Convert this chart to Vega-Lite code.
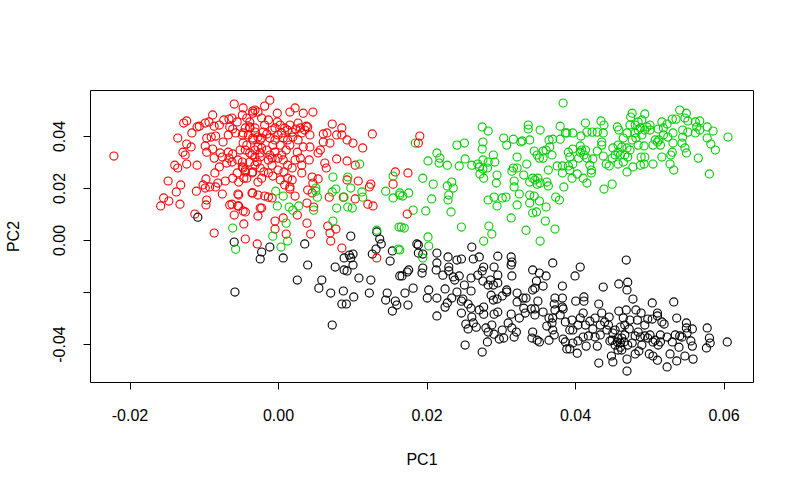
{"$schema":"https://vega.github.io/schema/vega-lite/v6.json","width":663,"height":292,"autosize":"none","padding":{"left":90,"top":90,"right":46,"bottom":112},"background":"white","config":{"view":{"stroke":"black","strokeWidth":1},"font":"Liberation Sans"},
"data":{"values":[
{"PC1":-0.0108,"PC2":0.0088,"g":"k"},{"PC1":-0.0059,"PC2":-0.0008,"g":"k"},{"PC1":-0.0022,"PC2":-0.0046,"g":"k"},{"PC1":-0.0011,"PC2":-0.0027,"g":"k"},{"PC1":-0.0024,"PC2":-0.0073,"g":"k"},{"PC1":0.0007,"PC2":-0.0069,"g":"k"},{"PC1":0.0036,"PC2":-0.0015,"g":"k"},{"PC1":0.0040,"PC2":-0.0096,"g":"k"},{"PC1":0.0026,"PC2":-0.0154,"g":"k"},{"PC1":0.0059,"PC2":-0.0154,"g":"k"},{"PC1":0.0055,"PC2":-0.0185,"g":"k"},{"PC1":-0.0058,"PC2":-0.0200,"g":"k"},{"PC1":0.0071,"PC2":-0.0204,"g":"k"},{"PC1":0.0088,"PC2":-0.0196,"g":"k"},{"PC1":0.0102,"PC2":-0.0219,"g":"k"},{"PC1":0.0123,"PC2":-0.0204,"g":"k"},{"PC1":0.0086,"PC2":-0.0246,"g":"k"},{"PC1":0.0092,"PC2":-0.0246,"g":"k"},{"PC1":0.0073,"PC2":-0.0327,"g":"k"},{"PC1":0.0098,"PC2":0.0015,"g":"k"},{"PC1":0.0133,"PC2":0.0031,"g":"k"},{"PC1":0.0137,"PC2":0.0004,"g":"k"},{"PC1":0.0139,"PC2":-0.0015,"g":"k"},{"PC1":0.0132,"PC2":-0.0035,"g":"k"},{"PC1":0.0127,"PC2":-0.0054,"g":"k"},{"PC1":0.0154,"PC2":-0.0042,"g":"k"},{"PC1":0.0151,"PC2":-0.0081,"g":"k"},{"PC1":0.0077,"PC2":-0.0104,"g":"k"},{"PC1":0.0089,"PC2":-0.0069,"g":"k"},{"PC1":0.0096,"PC2":-0.0058,"g":"k"},{"PC1":0.0101,"PC2":-0.0054,"g":"k"},{"PC1":0.0098,"PC2":-0.0069,"g":"k"},{"PC1":0.0101,"PC2":-0.0096,"g":"k"},{"PC1":0.0089,"PC2":-0.0115,"g":"k"},{"PC1":0.0093,"PC2":-0.0119,"g":"k"},{"PC1":0.0109,"PC2":-0.0146,"g":"k"},{"PC1":0.0125,"PC2":-0.0154,"g":"k"},{"PC1":0.0147,"PC2":-0.0204,"g":"k"},{"PC1":0.0145,"PC2":-0.0231,"g":"k"},{"PC1":0.0158,"PC2":-0.0235,"g":"k"},{"PC1":0.0160,"PC2":-0.0250,"g":"k"},{"PC1":0.0154,"PC2":-0.0273,"g":"k"},{"PC1":0.0164,"PC2":-0.0138,"g":"k"},
{"PC1":0.0187,"PC2":-0.0015,"g":"k"},{"PC1":0.0189,"PC2":-0.0019,"g":"k"},{"PC1":0.0189,"PC2":-0.0050,"g":"k"},{"PC1":0.0195,"PC2":-0.0054,"g":"k"},{"PC1":0.0214,"PC2":-0.0050,"g":"k"},{"PC1":0.0214,"PC2":-0.0088,"g":"k"},{"PC1":0.0213,"PC2":-0.0115,"g":"k"},{"PC1":0.0229,"PC2":-0.0065,"g":"k"},{"PC1":0.0241,"PC2":-0.0077,"g":"k"},{"PC1":0.0247,"PC2":-0.0073,"g":"k"},{"PC1":0.0261,"PC2":-0.0027,"g":"k"},{"PC1":0.0263,"PC2":-0.0073,"g":"k"},{"PC1":0.0271,"PC2":-0.0065,"g":"k"},{"PC1":0.0296,"PC2":-0.0062,"g":"k"},{"PC1":0.0314,"PC2":-0.0065,"g":"k"},{"PC1":0.0315,"PC2":-0.0085,"g":"k"},{"PC1":0.0314,"PC2":-0.0096,"g":"k"},{"PC1":0.0370,"PC2":-0.0088,"g":"k"},{"PC1":0.0343,"PC2":-0.0115,"g":"k"},{"PC1":0.0352,"PC2":-0.0127,"g":"k"},{"PC1":0.0361,"PC2":-0.0138,"g":"k"},{"PC1":0.0348,"PC2":-0.0158,"g":"k"},{"PC1":0.0357,"PC2":-0.0177,"g":"k"},{"PC1":0.0346,"PC2":-0.0185,"g":"k"},{"PC1":0.0343,"PC2":-0.0192,"g":"k"},{"PC1":0.0383,"PC2":-0.0177,"g":"k"},{"PC1":0.0315,"PC2":-0.0138,"g":"k"},{"PC1":0.0296,"PC2":-0.0135,"g":"k"},{"PC1":0.0291,"PC2":-0.0104,"g":"k"},{"PC1":0.0277,"PC2":-0.0104,"g":"k"},{"PC1":0.0275,"PC2":-0.0119,"g":"k"},{"PC1":0.0269,"PC2":-0.0135,"g":"k"},{"PC1":0.0260,"PC2":-0.0146,"g":"k"},{"PC1":0.0230,"PC2":-0.0104,"g":"k"},{"PC1":0.0230,"PC2":-0.0119,"g":"k"},{"PC1":0.0222,"PC2":-0.0135,"g":"k"},{"PC1":0.0236,"PC2":-0.0142,"g":"k"},{"PC1":0.0238,"PC2":-0.0154,"g":"k"},{"PC1":0.0244,"PC2":-0.0138,"g":"k"},{"PC1":0.0195,"PC2":-0.0108,"g":"k"},{"PC1":0.0194,"PC2":-0.0127,"g":"k"},{"PC1":0.0176,"PC2":-0.0115,"g":"k"},{"PC1":0.0174,"PC2":-0.0123,"g":"k"},{"PC1":0.0167,"PC2":-0.0138,"g":"k"},{"PC1":0.0182,"PC2":-0.0185,"g":"k"},{"PC1":0.0171,"PC2":-0.0204,"g":"k"},{"PC1":0.0203,"PC2":-0.0192,"g":"k"},{"PC1":0.0201,"PC2":-0.0223,"g":"k"},{"PC1":0.0214,"PC2":-0.0223,"g":"k"},{"PC1":0.0225,"PC2":-0.0188,"g":"k"},{"PC1":0.0234,"PC2":-0.0223,"g":"k"},{"PC1":0.0241,"PC2":-0.0200,"g":"k"},{"PC1":0.0251,"PC2":-0.0173,"g":"k"},{"PC1":0.0260,"PC2":-0.0196,"g":"k"},{"PC1":0.0249,"PC2":-0.0227,"g":"k"},{"PC1":0.0247,"PC2":-0.0235,"g":"k"},{"PC1":0.0276,"PC2":-0.0158,"g":"k"},{"PC1":0.0283,"PC2":-0.0173,"g":"k"},{"PC1":0.0290,"PC2":-0.0173,"g":"k"},{"PC1":0.0286,"PC2":-0.0154,"g":"k"},{"PC1":0.0296,"PC2":-0.0165,"g":"k"},{"PC1":0.0308,"PC2":-0.0192,"g":"k"},{"PC1":0.0308,"PC2":-0.0200,"g":"k"},{"PC1":0.0287,"PC2":-0.0212,"g":"k"},{"PC1":0.0302,"PC2":-0.0215,"g":"k"},{"PC1":0.0295,"PC2":-0.0227,"g":"k"},{"PC1":0.0290,"PC2":-0.0231,"g":"k"},{"PC1":0.0322,"PC2":-0.0204,"g":"k"},{"PC1":0.0322,"PC2":-0.0238,"g":"k"},{"PC1":0.0334,"PC2":-0.0223,"g":"k"},{"PC1":0.0330,"PC2":-0.0223,"g":"k"},{"PC1":0.0350,"PC2":-0.0235,"g":"k"},{"PC1":0.0373,"PC2":-0.0223,"g":"k"},{"PC1":0.0383,"PC2":-0.0223,"g":"k"},{"PC1":0.0175,"PC2":-0.0250,"g":"k"},{"PC1":0.0228,"PC2":-0.0242,"g":"k"},{"PC1":0.0225,"PC2":-0.0258,"g":"k"},{"PC1":0.0214,"PC2":-0.0292,"g":"k"},{"PC1":0.0256,"PC2":-0.0246,"g":"k"},{"PC1":0.0260,"PC2":-0.0262,"g":"k"},{"PC1":0.0247,"PC2":-0.0281,"g":"k"},{"PC1":0.0271,"PC2":-0.0269,"g":"k"},{"PC1":0.0277,"PC2":-0.0258,"g":"k"},{"PC1":0.0277,"PC2":-0.0285,"g":"k"},{"PC1":0.0291,"PC2":-0.0285,"g":"k"},{"PC1":0.0296,"PC2":-0.0277,"g":"k"},{"PC1":0.0314,"PC2":-0.0285,"g":"k"},{"PC1":0.0325,"PC2":-0.0300,"g":"k"},{"PC1":0.0333,"PC2":-0.0281,"g":"k"},{"PC1":0.0331,"PC2":-0.0262,"g":"k"},{"PC1":0.0341,"PC2":-0.0265,"g":"k"},{"PC1":0.0346,"PC2":-0.0265,"g":"k"},{"PC1":0.0346,"PC2":-0.0288,"g":"k"},{"PC1":0.0357,"PC2":-0.0277,"g":"k"},{"PC1":0.0372,"PC2":-0.0246,"g":"k"},{"PC1":0.0373,"PC2":-0.0269,"g":"k"},{"PC1":0.0383,"PC2":-0.0258,"g":"k"},{"PC1":0.0384,"PC2":-0.0265,"g":"k"},{"PC1":0.0380,"PC2":-0.0288,"g":"k"},{"PC1":0.0365,"PC2":-0.0300,"g":"k"},{"PC1":0.0370,"PC2":-0.0300,"g":"k"},{"PC1":0.0261,"PC2":-0.0296,"g":"k"},{"PC1":0.0253,"PC2":-0.0323,"g":"k"},{"PC1":0.0263,"PC2":-0.0319,"g":"k"},{"PC1":0.0256,"PC2":-0.0342,"g":"k"},{"PC1":0.0267,"PC2":-0.0335,"g":"k"},{"PC1":0.0288,"PC2":-0.0327,"g":"k"},{"PC1":0.0280,"PC2":-0.0338,"g":"k"},{"PC1":0.0283,"PC2":-0.0354,"g":"k"},{"PC1":0.0291,"PC2":-0.0362,"g":"k"},{"PC1":0.0302,"PC2":-0.0346,"g":"k"},{"PC1":0.0310,"PC2":-0.0319,"g":"k"},{"PC1":0.0315,"PC2":-0.0338,"g":"k"},{"PC1":0.0321,"PC2":-0.0354,"g":"k"},{"PC1":0.0318,"PC2":-0.0373,"g":"k"},{"PC1":0.0304,"PC2":-0.0377,"g":"k"},{"PC1":0.0298,"PC2":-0.0381,"g":"k"},{"PC1":0.0282,"PC2":-0.0392,"g":"k"},{"PC1":0.0252,"PC2":-0.0404,"g":"k"},{"PC1":0.0275,"PC2":-0.0431,"g":"k"},{"PC1":0.0343,"PC2":-0.0354,"g":"k"},{"PC1":0.0342,"PC2":-0.0377,"g":"k"},{"PC1":0.0349,"PC2":-0.0385,"g":"k"},{"PC1":0.0352,"PC2":-0.0392,"g":"k"},{"PC1":0.0365,"PC2":-0.0385,"g":"k"},{"PC1":0.0362,"PC2":-0.0331,"g":"k"},{"PC1":0.0369,"PC2":-0.0319,"g":"k"},{"PC1":0.0370,"PC2":-0.0346,"g":"k"},{"PC1":0.0372,"PC2":-0.0365,"g":"k"},{"PC1":0.0387,"PC2":-0.0315,"g":"k"},{"PC1":0.0384,"PC2":-0.0381,"g":"k"},{"PC1":0.0387,"PC2":-0.0392,"g":"k"},{"PC1":0.0389,"PC2":-0.0419,"g":"k"},{"PC1":0.0393,"PC2":-0.0346,"g":"k"},
{"PC1":0.0469,"PC2":-0.0077,"g":"k"},{"PC1":0.0407,"PC2":-0.0104,"g":"k"},{"PC1":0.0400,"PC2":-0.0138,"g":"k"},{"PC1":0.0438,"PC2":-0.0181,"g":"k"},{"PC1":0.0459,"PC2":-0.0169,"g":"k"},{"PC1":0.0471,"PC2":-0.0162,"g":"k"},{"PC1":0.0470,"PC2":-0.0192,"g":"k"},{"PC1":0.0478,"PC2":-0.0227,"g":"k"},{"PC1":0.0504,"PC2":-0.0242,"g":"k"},{"PC1":0.0533,"PC2":-0.0238,"g":"k"},{"PC1":0.0412,"PC2":-0.0219,"g":"k"},{"PC1":0.0412,"PC2":-0.0235,"g":"k"},{"PC1":0.0401,"PC2":-0.0235,"g":"k"},{"PC1":0.0432,"PC2":-0.0246,"g":"k"},{"PC1":0.0436,"PC2":-0.0281,"g":"k"},{"PC1":0.0411,"PC2":-0.0281,"g":"k"},{"PC1":0.0459,"PC2":-0.0273,"g":"k"},{"PC1":0.0469,"PC2":-0.0269,"g":"k"},{"PC1":0.0482,"PC2":-0.0269,"g":"k"},{"PC1":0.0489,"PC2":-0.0281,"g":"k"},{"PC1":0.0511,"PC2":-0.0281,"g":"k"},{"PC1":0.0511,"PC2":-0.0292,"g":"k"},{"PC1":0.0537,"PC2":-0.0300,"g":"k"},{"PC1":0.0550,"PC2":-0.0319,"g":"k"},{"PC1":0.0558,"PC2":-0.0342,"g":"k"},{"PC1":0.0550,"PC2":-0.0338,"g":"k"},{"PC1":0.0551,"PC2":-0.0358,"g":"k"},{"PC1":0.0578,"PC2":-0.0338,"g":"k"},{"PC1":0.0581,"PC2":-0.0377,"g":"k"},{"PC1":0.0582,"PC2":-0.0396,"g":"k"},{"PC1":0.0577,"PC2":-0.0415,"g":"k"},{"PC1":0.0605,"PC2":-0.0392,"g":"k"},{"PC1":0.0558,"PC2":-0.0408,"g":"k"},{"PC1":0.0556,"PC2":-0.0388,"g":"k"},{"PC1":0.0541,"PC2":-0.0369,"g":"k"},{"PC1":0.0540,"PC2":-0.0412,"g":"k"},{"PC1":0.0528,"PC2":-0.0438,"g":"k"},{"PC1":0.0548,"PC2":-0.0446,"g":"k"},{"PC1":0.0559,"PC2":-0.0458,"g":"k"},{"PC1":0.0537,"PC2":-0.0465,"g":"k"},{"PC1":0.0524,"PC2":-0.0488,"g":"k"},{"PC1":0.0511,"PC2":-0.0462,"g":"k"},{"PC1":0.0505,"PC2":-0.0446,"g":"k"},{"PC1":0.0500,"PC2":-0.0438,"g":"k"},{"PC1":0.0486,"PC2":-0.0427,"g":"k"},{"PC1":0.0481,"PC2":-0.0438,"g":"k"},{"PC1":0.0470,"PC2":-0.0458,"g":"k"},{"PC1":0.0470,"PC2":-0.0504,"g":"k"},{"PC1":0.0451,"PC2":-0.0469,"g":"k"},{"PC1":0.0449,"PC2":-0.0446,"g":"k"},{"PC1":0.0432,"PC2":-0.0473,"g":"k"},{"PC1":0.0403,"PC2":-0.0435,"g":"k"},{"PC1":0.0430,"PC2":-0.0408,"g":"k"},{"PC1":0.0415,"PC2":-0.0408,"g":"k"},{"PC1":0.0397,"PC2":-0.0396,"g":"k"},{"PC1":0.0393,"PC2":-0.0419,"g":"k"},{"PC1":0.0424,"PC2":-0.0342,"g":"k"},{"PC1":0.0434,"PC2":-0.0327,"g":"k"},{"PC1":0.0420,"PC2":-0.0312,"g":"k"},{"PC1":0.0407,"PC2":-0.0300,"g":"k"},{"PC1":0.0396,"PC2":-0.0308,"g":"k"},{"PC1":0.0446,"PC2":-0.0296,"g":"k"},{"PC1":0.0445,"PC2":-0.0327,"g":"k"},{"PC1":0.0443,"PC2":-0.0346,"g":"k"},{"PC1":0.0451,"PC2":-0.0358,"g":"k"},{"PC1":0.0447,"PC2":-0.0388,"g":"k"},{"PC1":0.0457,"PC2":-0.0392,"g":"k"},{"PC1":0.0463,"PC2":-0.0377,"g":"k"},{"PC1":0.0461,"PC2":-0.0412,"g":"k"},{"PC1":0.0458,"PC2":-0.0423,"g":"k"},{"PC1":0.0471,"PC2":-0.0404,"g":"k"},{"PC1":0.0477,"PC2":-0.0396,"g":"k"},{"PC1":0.0485,"PC2":-0.0354,"g":"k"},{"PC1":0.0484,"PC2":-0.0308,"g":"k"},{"PC1":0.0474,"PC2":-0.0308,"g":"k"},{"PC1":0.0465,"PC2":-0.0300,"g":"k"},{"PC1":0.0498,"PC2":-0.0304,"g":"k"},{"PC1":0.0504,"PC2":-0.0304,"g":"k"},{"PC1":0.0494,"PC2":-0.0369,"g":"k"},{"PC1":0.0498,"PC2":-0.0377,"g":"k"},{"PC1":0.0490,"PC2":-0.0404,"g":"k"},{"PC1":0.0505,"PC2":-0.0392,"g":"k"},{"PC1":0.0512,"PC2":-0.0404,"g":"k"},{"PC1":0.0515,"PC2":-0.0365,"g":"k"},{"PC1":0.0520,"PC2":-0.0323,"g":"k"},{"PC1":0.0517,"PC2":-0.0315,"g":"k"},{"PC1":0.0524,"PC2":-0.0373,"g":"k"},{"PC1":0.0535,"PC2":-0.0365,"g":"k"},{"PC1":0.0544,"PC2":-0.0373,"g":"k"},{"PC1":0.0531,"PC2":-0.0392,"g":"k"},{"PC1":0.0397,"PC2":-0.0346,"g":"k"},{"PC1":0.0411,"PC2":-0.0373,"g":"k"},{"PC1":0.0404,"PC2":-0.0388,"g":"k"},{"PC1":0.0418,"PC2":-0.0369,"g":"k"},{"PC1":0.0427,"PC2":-0.0373,"g":"k"},{"PC1":0.0461,"PC2":-0.0335,"g":"k"},{"PC1":0.0473,"PC2":-0.0342,"g":"k"},{"PC1":0.0467,"PC2":-0.0365,"g":"k"},{"PC1":0.0481,"PC2":-0.0369,"g":"k"},{"PC1":0.0488,"PC2":-0.0373,"g":"k"},{"PC1":0.0450,"PC2":-0.0385,"g":"k"},{"PC1":0.0454,"PC2":-0.0404,"g":"k"},{"PC1":0.0461,"PC2":-0.0396,"g":"k"},{"PC1":0.0466,"PC2":-0.0392,"g":"k"},{"PC1":0.0458,"PC2":-0.0377,"g":"k"},{"PC1":0.0463,"PC2":-0.0423,"g":"k"},{"PC1":0.0508,"PC2":-0.0385,"g":"k"},{"PC1":0.0515,"PC2":-0.0392,"g":"k"},{"PC1":0.0501,"PC2":-0.0365,"g":"k"},{"PC1":0.0494,"PC2":-0.0327,"g":"k"},{"PC1":0.0467,"PC2":-0.0327,"g":"k"},{"PC1":0.0454,"PC2":-0.0346,"g":"k"},{"PC1":0.0434,"PC2":-0.0365,"g":"k"},{"PC1":0.0440,"PC2":-0.0315,"g":"k"},{"PC1":0.0427,"PC2":-0.0300,"g":"k"},{"PC1":0.0414,"PC2":-0.0327,"g":"k"},{"PC1":0.0404,"PC2":-0.0327,"g":"k"},
{"PC1":-0.0221,"PC2":0.0323,"g":"r"},{"PC1":-0.0059,"PC2":0.0523,"g":"r"},{"PC1":-0.0047,"PC2":0.0508,"g":"r"},{"PC1":-0.0088,"PC2":0.0481,"g":"r"},{"PC1":-0.0123,"PC2":0.0458,"g":"r"},{"PC1":-0.0127,"PC2":0.0450,"g":"r"},{"PC1":-0.0135,"PC2":0.0392,"g":"r"},{"PC1":-0.0116,"PC2":0.0412,"g":"r"},{"PC1":-0.0109,"PC2":0.0435,"g":"r"},{"PC1":-0.0106,"PC2":0.0438,"g":"r"},{"PC1":-0.0098,"PC2":0.0450,"g":"r"},{"PC1":-0.0093,"PC2":0.0454,"g":"r"},{"PC1":-0.0086,"PC2":0.0438,"g":"r"},{"PC1":-0.0079,"PC2":0.0442,"g":"r"},{"PC1":-0.0073,"PC2":0.0462,"g":"r"},{"PC1":-0.0066,"PC2":0.0465,"g":"r"},{"PC1":-0.0062,"PC2":0.0469,"g":"r"},{"PC1":-0.0055,"PC2":0.0454,"g":"r"},{"PC1":-0.0048,"PC2":0.0481,"g":"r"},{"PC1":-0.0065,"PC2":0.0435,"g":"r"},{"PC1":-0.0061,"PC2":0.0427,"g":"r"},{"PC1":-0.0047,"PC2":0.0412,"g":"r"},{"PC1":-0.0057,"PC2":0.0412,"g":"r"},{"PC1":-0.0067,"PC2":0.0404,"g":"r"},{"PC1":-0.0096,"PC2":0.0392,"g":"r"},{"PC1":-0.0090,"PC2":0.0396,"g":"r"},{"PC1":-0.0084,"PC2":0.0400,"g":"r"},{"PC1":-0.0074,"PC2":0.0377,"g":"r"},{"PC1":-0.0098,"PC2":0.0362,"g":"r"},{"PC1":-0.0123,"PC2":0.0369,"g":"r"},{"PC1":-0.0117,"PC2":0.0358,"g":"r"},{"PC1":-0.0128,"PC2":0.0338,"g":"r"},{"PC1":-0.0125,"PC2":0.0327,"g":"r"},{"PC1":-0.0096,"PC2":0.0338,"g":"r"},{"PC1":-0.0088,"PC2":0.0350,"g":"r"},{"PC1":-0.0078,"PC2":0.0335,"g":"r"},{"PC1":-0.0067,"PC2":0.0338,"g":"r"},{"PC1":-0.0061,"PC2":0.0331,"g":"r"},{"PC1":-0.0086,"PC2":0.0315,"g":"r"},{"PC1":-0.0075,"PC2":0.0319,"g":"r"},{"PC1":-0.0066,"PC2":0.0315,"g":"r"},{"PC1":-0.0069,"PC2":0.0296,"g":"r"},{"PC1":-0.0079,"PC2":0.0281,"g":"r"},{"PC1":-0.0048,"PC2":0.0300,"g":"r"},{"PC1":-0.0047,"PC2":0.0277,"g":"r"},{"PC1":-0.0109,"PC2":0.0288,"g":"r"},{"PC1":-0.0123,"PC2":0.0292,"g":"r"},{"PC1":-0.0139,"PC2":0.0288,"g":"r"},{"PC1":-0.0135,"PC2":0.0277,"g":"r"},{"PC1":-0.0085,"PC2":0.0258,"g":"r"},{"PC1":-0.0148,"PC2":0.0227,"g":"r"},{"PC1":-0.0131,"PC2":0.0212,"g":"r"},{"PC1":-0.0097,"PC2":0.0235,"g":"r"},{"PC1":-0.0081,"PC2":0.0219,"g":"r"},{"PC1":-0.0071,"PC2":0.0227,"g":"r"},{"PC1":-0.0061,"PC2":0.0238,"g":"r"},{"PC1":-0.0053,"PC2":0.0223,"g":"r"},{"PC1":-0.0046,"PC2":0.0238,"g":"r"},{"PC1":-0.0101,"PC2":0.0212,"g":"r"},{"PC1":-0.0098,"PC2":0.0200,"g":"r"},{"PC1":-0.0092,"PC2":0.0204,"g":"r"},{"PC1":-0.0084,"PC2":0.0204,"g":"r"},{"PC1":-0.0110,"PC2":0.0188,"g":"r"},{"PC1":-0.0137,"PC2":0.0185,"g":"r"},{"PC1":-0.0075,"PC2":0.0177,"g":"r"},{"PC1":-0.0053,"PC2":0.0173,"g":"r"},{"PC1":-0.0096,"PC2":0.0154,"g":"r"},{"PC1":-0.0097,"PC2":0.0135,"g":"r"},{"PC1":-0.0132,"PC2":0.0138,"g":"r"},{"PC1":-0.0147,"PC2":0.0150,"g":"r"},{"PC1":-0.0154,"PC2":0.0162,"g":"r"},{"PC1":-0.0158,"PC2":0.0131,"g":"r"},{"PC1":-0.0062,"PC2":0.0138,"g":"r"},{"PC1":-0.0053,"PC2":0.0131,"g":"r"},{"PC1":-0.0047,"PC2":0.0112,"g":"r"},{"PC1":-0.0044,"PC2":0.0108,"g":"r"},{"PC1":-0.0059,"PC2":0.0096,"g":"r"},{"PC1":-0.0112,"PC2":0.0100,"g":"r"},{"PC1":-0.0046,"PC2":0.0062,"g":"r"},{"PC1":-0.0086,"PC2":0.0027,"g":"r"},{"PC1":-0.0044,"PC2":0.0004,"g":"r"},{"PC1":-0.0028,"PC2":-0.0015,"g":"r"},{"PC1":-0.0027,"PC2":0.0092,"g":"r"},{"PC1":-0.0034,"PC2":0.0181,"g":"r"},{"PC1":-0.0027,"PC2":0.0173,"g":"r"},{"PC1":-0.0024,"PC2":0.0123,"g":"r"},{"PC1":-0.0042,"PC2":0.0469,"g":"r"},{"PC1":-0.0038,"PC2":0.0454,"g":"r"},{"PC1":-0.0031,"PC2":0.0500,"g":"r"},{"PC1":-0.0027,"PC2":0.0492,"g":"r"},{"PC1":-0.0034,"PC2":0.0488,"g":"r"},{"PC1":-0.0038,"PC2":0.0435,"g":"r"},{"PC1":-0.0031,"PC2":0.0415,"g":"r"},{"PC1":-0.0027,"PC2":0.0396,"g":"r"},{"PC1":-0.0048,"PC2":0.0404,"g":"r"},{"PC1":-0.0034,"PC2":0.0385,"g":"r"},{"PC1":-0.0042,"PC2":0.0365,"g":"r"},{"PC1":-0.0027,"PC2":0.0358,"g":"r"},{"PC1":-0.0047,"PC2":0.0373,"g":"r"},{"PC1":-0.0038,"PC2":0.0335,"g":"r"},{"PC1":-0.0031,"PC2":0.0319,"g":"r"},{"PC1":-0.0024,"PC2":0.0335,"g":"r"},{"PC1":-0.0048,"PC2":0.0281,"g":"r"},{"PC1":-0.0044,"PC2":0.0262,"g":"r"},{"PC1":-0.0035,"PC2":0.0258,"g":"r"},{"PC1":-0.0028,"PC2":0.0300,"g":"r"},{"PC1":-0.0055,"PC2":0.0258,"g":"r"},{"PC1":-0.0027,"PC2":0.0223,"g":"r"},
{"PC1":-0.0011,"PC2":0.0538,"g":"r"},{"PC1":-0.0018,"PC2":0.0515,"g":"r"},{"PC1":0.0023,"PC2":0.0508,"g":"r"},{"PC1":0.0047,"PC2":0.0492,"g":"r"},{"PC1":0.0034,"PC2":0.0488,"g":"r"},{"PC1":0.0016,"PC2":0.0492,"g":"r"},{"PC1":-0.0001,"PC2":0.0488,"g":"r"},{"PC1":-0.0034,"PC2":0.0496,"g":"r"},{"PC1":0.0073,"PC2":0.0446,"g":"r"},{"PC1":0.0086,"PC2":0.0431,"g":"r"},{"PC1":0.0127,"PC2":0.0408,"g":"r"},{"PC1":0.0061,"PC2":0.0408,"g":"r"},{"PC1":0.0066,"PC2":0.0412,"g":"r"},{"PC1":0.0079,"PC2":0.0404,"g":"r"},{"PC1":0.0086,"PC2":0.0404,"g":"r"},{"PC1":0.0093,"PC2":0.0385,"g":"r"},{"PC1":0.0101,"PC2":0.0373,"g":"r"},{"PC1":0.0070,"PC2":0.0373,"g":"r"},{"PC1":0.0114,"PC2":0.0354,"g":"r"},{"PC1":0.0061,"PC2":0.0377,"g":"r"},{"PC1":0.0038,"PC2":0.0438,"g":"r"},{"PC1":0.0040,"PC2":0.0435,"g":"r"},{"PC1":0.0027,"PC2":0.0450,"g":"r"},{"PC1":-0.0001,"PC2":0.0454,"g":"r"},{"PC1":-0.0018,"PC2":0.0442,"g":"r"},{"PC1":-0.0038,"PC2":0.0431,"g":"r"},{"PC1":-0.0020,"PC2":0.0415,"g":"r"},{"PC1":-0.0011,"PC2":0.0392,"g":"r"},{"PC1":0.0005,"PC2":0.0412,"g":"r"},{"PC1":0.0013,"PC2":0.0423,"g":"r"},{"PC1":0.0032,"PC2":0.0412,"g":"r"},{"PC1":0.0043,"PC2":0.0404,"g":"r"},{"PC1":-0.0034,"PC2":0.0392,"g":"r"},{"PC1":-0.0024,"PC2":0.0385,"g":"r"},{"PC1":-0.0007,"PC2":0.0365,"g":"r"},{"PC1":0.0005,"PC2":0.0327,"g":"r"},{"PC1":0.0026,"PC2":0.0338,"g":"r"},{"PC1":0.0034,"PC2":0.0358,"g":"r"},{"PC1":0.0043,"PC2":0.0358,"g":"r"},{"PC1":0.0054,"PC2":0.0335,"g":"r"},{"PC1":0.0057,"PC2":0.0346,"g":"r"},{"PC1":0.0079,"PC2":0.0312,"g":"r"},{"PC1":0.0093,"PC2":0.0304,"g":"r"},{"PC1":0.0104,"PC2":0.0288,"g":"r"},{"PC1":0.0063,"PC2":0.0296,"g":"r"},{"PC1":0.0065,"PC2":0.0277,"g":"r"},{"PC1":0.0042,"PC2":0.0308,"g":"r"},{"PC1":0.0032,"PC2":0.0288,"g":"r"},{"PC1":0.0019,"PC2":0.0277,"g":"r"},{"PC1":-0.0008,"PC2":0.0315,"g":"r"},{"PC1":-0.0024,"PC2":0.0319,"g":"r"},{"PC1":-0.0035,"PC2":0.0327,"g":"r"},{"PC1":-0.0062,"PC2":0.0300,"g":"r"},{"PC1":-0.0044,"PC2":0.0269,"g":"r"},{"PC1":-0.0034,"PC2":0.0262,"g":"r"},{"PC1":-0.0013,"PC2":0.0258,"g":"r"},{"PC1":-0.0007,"PC2":0.0246,"g":"r"},{"PC1":0.0013,"PC2":0.0238,"g":"r"},{"PC1":0.0032,"PC2":0.0258,"g":"r"},{"PC1":0.0046,"PC2":0.0242,"g":"r"},{"PC1":0.0054,"PC2":0.0235,"g":"r"},{"PC1":0.0047,"PC2":0.0219,"g":"r"},{"PC1":0.0016,"PC2":0.0204,"g":"r"},{"PC1":0.0016,"PC2":0.0196,"g":"r"},{"PC1":0.0040,"PC2":0.0192,"g":"r"},{"PC1":0.0046,"PC2":0.0181,"g":"r"},{"PC1":-0.0013,"PC2":0.0165,"g":"r"},{"PC1":-0.0008,"PC2":0.0162,"g":"r"},{"PC1":-0.0035,"PC2":0.0181,"g":"r"},{"PC1":-0.0018,"PC2":0.0169,"g":"r"},{"PC1":0.0023,"PC2":0.0169,"g":"r"},{"PC1":-0.0054,"PC2":0.0177,"g":"r"},{"PC1":-0.0065,"PC2":0.0135,"g":"r"},{"PC1":-0.0054,"PC2":0.0131,"g":"r"},{"PC1":-0.0022,"PC2":0.0123,"g":"r"},{"PC1":-0.0004,"PC2":0.0073,"g":"r"},{"PC1":0.0007,"PC2":0.0085,"g":"r"},{"PC1":0.0026,"PC2":0.0096,"g":"r"},{"PC1":0.0039,"PC2":0.0142,"g":"r"},{"PC1":0.0048,"PC2":0.0127,"g":"r"},{"PC1":0.0039,"PC2":0.0065,"g":"r"},{"PC1":-0.0004,"PC2":0.0042,"g":"r"},{"PC1":0.0011,"PC2":0.0023,"g":"r"},{"PC1":0.0044,"PC2":0.0023,"g":"r"},{"PC1":0.0067,"PC2":0.0054,"g":"r"},{"PC1":0.0078,"PC2":0.0042,"g":"r"},{"PC1":0.0070,"PC2":0.0027,"g":"r"},{"PC1":0.0071,"PC2":-0.0004,"g":"r"},{"PC1":0.0086,"PC2":-0.0031,"g":"r"},{"PC1":0.0069,"PC2":0.0165,"g":"r"},{"PC1":0.0088,"PC2":0.0165,"g":"r"},{"PC1":0.0104,"PC2":0.0158,"g":"r"},{"PC1":0.0121,"PC2":0.0138,"g":"r"},{"PC1":0.0128,"PC2":0.0131,"g":"r"},{"PC1":0.0123,"PC2":0.0204,"g":"r"},{"PC1":0.0125,"PC2":0.0215,"g":"r"},{"PC1":0.0155,"PC2":0.0215,"g":"r"},{"PC1":0.0158,"PC2":0.0262,"g":"r"},{"PC1":0.0108,"PC2":0.0227,"g":"r"},{"PC1":0.0093,"PC2":0.0231,"g":"r"},{"PC1":0.0133,"PC2":-0.0069,"g":"r"},
{"PC1":-0.0022,"PC2":0.0469,"g":"r"},{"PC1":-0.0013,"PC2":0.0462,"g":"r"},{"PC1":-0.0004,"PC2":0.0431,"g":"r"},{"PC1":0.0003,"PC2":0.0442,"g":"r"},{"PC1":0.0009,"PC2":0.0431,"g":"r"},{"PC1":0.0016,"PC2":0.0442,"g":"r"},{"PC1":0.0019,"PC2":0.0415,"g":"r"},{"PC1":0.0024,"PC2":0.0427,"g":"r"},{"PC1":0.0030,"PC2":0.0431,"g":"r"},{"PC1":0.0036,"PC2":0.0423,"g":"r"},{"PC1":-0.0031,"PC2":0.0431,"g":"r"},{"PC1":-0.0022,"PC2":0.0392,"g":"r"},{"PC1":-0.0015,"PC2":0.0408,"g":"r"},{"PC1":-0.0008,"PC2":0.0423,"g":"r"},{"PC1":0.0000,"PC2":0.0404,"g":"r"},{"PC1":0.0007,"PC2":0.0392,"g":"r"},{"PC1":0.0013,"PC2":0.0385,"g":"r"},{"PC1":0.0020,"PC2":0.0396,"g":"r"},{"PC1":0.0027,"PC2":0.0385,"g":"r"},{"PC1":-0.0044,"PC2":0.0431,"g":"r"},{"PC1":-0.0040,"PC2":0.0404,"g":"r"},{"PC1":-0.0031,"PC2":0.0346,"g":"r"},{"PC1":-0.0022,"PC2":0.0354,"g":"r"},{"PC1":-0.0015,"PC2":0.0346,"g":"r"},{"PC1":-0.0011,"PC2":0.0327,"g":"r"},{"PC1":-0.0004,"PC2":0.0338,"g":"r"},{"PC1":0.0000,"PC2":0.0315,"g":"r"},{"PC1":0.0007,"PC2":0.0308,"g":"r"},{"PC1":0.0011,"PC2":0.0346,"g":"r"},{"PC1":0.0016,"PC2":0.0365,"g":"r"},{"PC1":0.0023,"PC2":0.0308,"g":"r"},{"PC1":0.0030,"PC2":0.0315,"g":"r"},{"PC1":-0.0044,"PC2":0.0346,"g":"r"},{"PC1":-0.0038,"PC2":0.0300,"g":"r"},{"PC1":-0.0031,"PC2":0.0288,"g":"r"},{"PC1":-0.0024,"PC2":0.0277,"g":"r"},{"PC1":-0.0019,"PC2":0.0262,"g":"r"},{"PC1":-0.0013,"PC2":0.0308,"g":"r"},{"PC1":-0.0008,"PC2":0.0288,"g":"r"},{"PC1":0.0000,"PC2":0.0269,"g":"r"},{"PC1":0.0008,"PC2":0.0262,"g":"r"},{"PC1":0.0013,"PC2":0.0288,"g":"r"},{"PC1":-0.0051,"PC2":0.0346,"g":"r"},{"PC1":-0.0054,"PC2":0.0308,"g":"r"},{"PC1":-0.0042,"PC2":0.0238,"g":"r"},{"PC1":-0.0022,"PC2":0.0238,"g":"r"},{"PC1":0.0003,"PC2":0.0231,"g":"r"},{"PC1":0.0009,"PC2":0.0212,"g":"r"},{"PC1":0.0019,"PC2":0.0231,"g":"r"},{"PC1":0.0003,"PC2":0.0365,"g":"r"},{"PC1":-0.0004,"PC2":0.0385,"g":"r"},
{"PC1":0.0110,"PC2":0.0292,"g":"g"},{"PC1":0.0074,"PC2":0.0242,"g":"g"},{"PC1":0.0094,"PC2":0.0242,"g":"g"},{"PC1":0.0073,"PC2":0.0185,"g":"g"},{"PC1":0.0078,"PC2":0.0196,"g":"g"},{"PC1":0.0051,"PC2":0.0200,"g":"g"},{"PC1":0.0051,"PC2":0.0188,"g":"g"},{"PC1":0.0053,"PC2":0.0165,"g":"g"},{"PC1":-0.0003,"PC2":0.0188,"g":"g"},{"PC1":0.0007,"PC2":0.0169,"g":"g"},{"PC1":-0.0001,"PC2":0.0131,"g":"g"},{"PC1":0.0015,"PC2":0.0127,"g":"g"},{"PC1":0.0020,"PC2":0.0115,"g":"g"},{"PC1":0.0028,"PC2":0.0131,"g":"g"},{"PC1":0.0048,"PC2":0.0115,"g":"g"},{"PC1":0.0089,"PC2":0.0165,"g":"g"},{"PC1":0.0079,"PC2":0.0123,"g":"g"},{"PC1":0.0098,"PC2":0.0200,"g":"g"},{"PC1":0.0094,"PC2":0.0127,"g":"g"},{"PC1":0.0100,"PC2":0.0123,"g":"g"},{"PC1":0.0114,"PC2":0.0165,"g":"g"},{"PC1":0.0113,"PC2":0.0185,"g":"g"},{"PC1":0.0145,"PC2":0.0188,"g":"g"},{"PC1":0.0155,"PC2":0.0162,"g":"g"},{"PC1":0.0155,"PC2":0.0246,"g":"g"},{"PC1":0.0164,"PC2":0.0173,"g":"g"},{"PC1":0.0074,"PC2":0.0073,"g":"g"},{"PC1":0.0011,"PC2":0.0065,"g":"g"},{"PC1":-0.0007,"PC2":0.0015,"g":"g"},{"PC1":0.0013,"PC2":-0.0004,"g":"g"},{"PC1":0.0004,"PC2":-0.0027,"g":"g"},{"PC1":-0.0057,"PC2":-0.0035,"g":"g"},{"PC1":-0.0061,"PC2":0.0046,"g":"g"},{"PC1":0.0133,"PC2":0.0038,"g":"g"},{"PC1":0.0163,"PC2":0.0050,"g":"g"},{"PC1":0.0162,"PC2":-0.0035,"g":"g"},
{"PC1":0.0384,"PC2":0.0527,"g":"g"},{"PC1":0.0275,"PC2":0.0435,"g":"g"},{"PC1":0.0283,"PC2":0.0419,"g":"g"},{"PC1":0.0337,"PC2":0.0442,"g":"g"},{"PC1":0.0337,"PC2":0.0427,"g":"g"},{"PC1":0.0353,"PC2":0.0423,"g":"g"},{"PC1":0.0380,"PC2":0.0438,"g":"g"},{"PC1":0.0387,"PC2":0.0412,"g":"g"},{"PC1":0.0389,"PC2":0.0412,"g":"g"},{"PC1":0.0304,"PC2":0.0392,"g":"g"},{"PC1":0.0317,"PC2":0.0388,"g":"g"},{"PC1":0.0308,"PC2":0.0365,"g":"g"},{"PC1":0.0329,"PC2":0.0381,"g":"g"},{"PC1":0.0327,"PC2":0.0377,"g":"g"},{"PC1":0.0339,"PC2":0.0385,"g":"g"},{"PC1":0.0365,"PC2":0.0385,"g":"g"},{"PC1":0.0370,"PC2":0.0388,"g":"g"},{"PC1":0.0380,"PC2":0.0388,"g":"g"},{"PC1":0.0391,"PC2":0.0338,"g":"g"},{"PC1":0.0241,"PC2":0.0365,"g":"g"},{"PC1":0.0251,"PC2":0.0373,"g":"g"},{"PC1":0.0276,"PC2":0.0377,"g":"g"},{"PC1":0.0275,"PC2":0.0350,"g":"g"},{"PC1":0.0185,"PC2":0.0373,"g":"g"},{"PC1":0.0214,"PC2":0.0335,"g":"g"},{"PC1":0.0218,"PC2":0.0315,"g":"g"},{"PC1":0.0217,"PC2":0.0296,"g":"g"},{"PC1":0.0202,"PC2":0.0304,"g":"g"},{"PC1":0.0228,"PC2":0.0288,"g":"g"},{"PC1":0.0244,"PC2":0.0285,"g":"g"},{"PC1":0.0252,"PC2":0.0312,"g":"g"},{"PC1":0.0261,"PC2":0.0288,"g":"g"},{"PC1":0.0269,"PC2":0.0292,"g":"g"},{"PC1":0.0271,"PC2":0.0281,"g":"g"},{"PC1":0.0276,"PC2":0.0308,"g":"g"},{"PC1":0.0283,"PC2":0.0300,"g":"g"},{"PC1":0.0290,"PC2":0.0327,"g":"g"},{"PC1":0.0292,"PC2":0.0300,"g":"g"},{"PC1":0.0272,"PC2":0.0254,"g":"g"},{"PC1":0.0276,"PC2":0.0273,"g":"g"},{"PC1":0.0282,"PC2":0.0277,"g":"g"},{"PC1":0.0277,"PC2":0.0238,"g":"g"},{"PC1":0.0295,"PC2":0.0250,"g":"g"},{"PC1":0.0294,"PC2":0.0219,"g":"g"},{"PC1":0.0322,"PC2":0.0319,"g":"g"},{"PC1":0.0335,"PC2":0.0292,"g":"g"},{"PC1":0.0331,"PC2":0.0250,"g":"g"},{"PC1":0.0317,"PC2":0.0277,"g":"g"},{"PC1":0.0315,"PC2":0.0265,"g":"g"},{"PC1":0.0322,"PC2":0.0277,"g":"g"},{"PC1":0.0318,"PC2":0.0227,"g":"g"},{"PC1":0.0318,"PC2":0.0204,"g":"g"},{"PC1":0.0345,"PC2":0.0342,"g":"g"},{"PC1":0.0349,"PC2":0.0327,"g":"g"},{"PC1":0.0357,"PC2":0.0342,"g":"g"},{"PC1":0.0361,"PC2":0.0346,"g":"g"},{"PC1":0.0352,"PC2":0.0315,"g":"g"},{"PC1":0.0357,"PC2":0.0315,"g":"g"},{"PC1":0.0366,"PC2":0.0358,"g":"g"},{"PC1":0.0369,"PC2":0.0327,"g":"g"},{"PC1":0.0376,"PC2":0.0285,"g":"g"},{"PC1":0.0383,"PC2":0.0285,"g":"g"},{"PC1":0.0391,"PC2":0.0285,"g":"g"},{"PC1":0.0383,"PC2":0.0258,"g":"g"},{"PC1":0.0364,"PC2":0.0269,"g":"g"},{"PC1":0.0362,"PC2":0.0223,"g":"g"},{"PC1":0.0364,"PC2":0.0208,"g":"g"},{"PC1":0.0385,"PC2":0.0204,"g":"g"},{"PC1":0.0343,"PC2":0.0238,"g":"g"},{"PC1":0.0346,"PC2":0.0231,"g":"g"},{"PC1":0.0350,"PC2":0.0238,"g":"g"},{"PC1":0.0353,"PC2":0.0219,"g":"g"},{"PC1":0.0349,"PC2":0.0215,"g":"g"},{"PC1":0.0339,"PC2":0.0223,"g":"g"},{"PC1":0.0195,"PC2":0.0238,"g":"g"},{"PC1":0.0209,"PC2":0.0215,"g":"g"},{"PC1":0.0234,"PC2":0.0223,"g":"g"},{"PC1":0.0228,"PC2":0.0208,"g":"g"},{"PC1":0.0236,"PC2":0.0200,"g":"g"},{"PC1":0.0230,"PC2":0.0173,"g":"g"},{"PC1":0.0229,"PC2":0.0154,"g":"g"},{"PC1":0.0207,"PC2":0.0158,"g":"g"},{"PC1":0.0176,"PC2":0.0181,"g":"g"},{"PC1":0.0168,"PC2":0.0169,"g":"g"},{"PC1":0.0164,"PC2":0.0181,"g":"g"},{"PC1":0.0283,"PC2":0.0154,"g":"g"},{"PC1":0.0291,"PC2":0.0165,"g":"g"},{"PC1":0.0302,"PC2":0.0162,"g":"g"},{"PC1":0.0307,"PC2":0.0165,"g":"g"},{"PC1":0.0295,"PC2":0.0131,"g":"g"},{"PC1":0.0325,"PC2":0.0177,"g":"g"},{"PC1":0.0322,"PC2":0.0135,"g":"g"},{"PC1":0.0339,"PC2":0.0173,"g":"g"},{"PC1":0.0345,"PC2":0.0169,"g":"g"},{"PC1":0.0339,"PC2":0.0142,"g":"g"},{"PC1":0.0352,"PC2":0.0150,"g":"g"},{"PC1":0.0361,"PC2":0.0127,"g":"g"},{"PC1":0.0343,"PC2":0.0104,"g":"g"},{"PC1":0.0348,"PC2":0.0108,"g":"g"},{"PC1":0.0374,"PC2":0.0165,"g":"g"},{"PC1":0.0379,"PC2":0.0154,"g":"g"},{"PC1":0.0182,"PC2":0.0115,"g":"g"},{"PC1":0.0199,"PC2":0.0112,"g":"g"},{"PC1":0.0233,"PC2":0.0108,"g":"g"},{"PC1":0.0314,"PC2":0.0085,"g":"g"},{"PC1":0.0360,"PC2":0.0073,"g":"g"},{"PC1":0.0247,"PC2":0.0050,"g":"g"},{"PC1":0.0284,"PC2":0.0054,"g":"g"},{"PC1":0.0288,"PC2":0.0023,"g":"g"},{"PC1":0.0277,"PC2":-0.0004,"g":"g"},{"PC1":0.0334,"PC2":0.0038,"g":"g"},{"PC1":0.0373,"PC2":0.0042,"g":"g"},{"PC1":0.0353,"PC2":-0.0004,"g":"g"},{"PC1":0.0202,"PC2":0.0012,"g":"g"},{"PC1":0.0203,"PC2":-0.0023,"g":"g"},{"PC1":0.0195,"PC2":-0.0069,"g":"g"},{"PC1":0.0170,"PC2":0.0046,"g":"g"},{"PC1":0.0166,"PC2":0.0050,"g":"g"},{"PC1":0.0164,"PC2":-0.0038,"g":"g"},
{"PC1":0.0606,"PC2":0.0396,"g":"g"},{"PC1":0.0581,"PC2":0.0254,"g":"g"},{"PC1":0.0541,"PC2":0.0500,"g":"g"},{"PC1":0.0550,"PC2":0.0488,"g":"g"},{"PC1":0.0494,"PC2":0.0485,"g":"g"},{"PC1":0.0477,"PC2":0.0488,"g":"g"},{"PC1":0.0475,"PC2":0.0473,"g":"g"},{"PC1":0.0435,"PC2":0.0458,"g":"g"},{"PC1":0.0414,"PC2":0.0450,"g":"g"},{"PC1":0.0439,"PC2":0.0442,"g":"g"},{"PC1":0.0397,"PC2":0.0412,"g":"g"},{"PC1":0.0408,"PC2":0.0400,"g":"g"},{"PC1":0.0416,"PC2":0.0415,"g":"g"},{"PC1":0.0423,"PC2":0.0415,"g":"g"},{"PC1":0.0430,"PC2":0.0415,"g":"g"},{"PC1":0.0438,"PC2":0.0412,"g":"g"},{"PC1":0.0457,"PC2":0.0435,"g":"g"},{"PC1":0.0459,"PC2":0.0423,"g":"g"},{"PC1":0.0474,"PC2":0.0442,"g":"g"},{"PC1":0.0485,"PC2":0.0454,"g":"g"},{"PC1":0.0490,"PC2":0.0462,"g":"g"},{"PC1":0.0497,"PC2":0.0435,"g":"g"},{"PC1":0.0501,"PC2":0.0423,"g":"g"},{"PC1":0.0517,"PC2":0.0454,"g":"g"},{"PC1":0.0524,"PC2":0.0446,"g":"g"},{"PC1":0.0531,"PC2":0.0465,"g":"g"},{"PC1":0.0536,"PC2":0.0465,"g":"g"},{"PC1":0.0548,"PC2":0.0469,"g":"g"},{"PC1":0.0552,"PC2":0.0458,"g":"g"},{"PC1":0.0562,"PC2":0.0454,"g":"g"},{"PC1":0.0568,"PC2":0.0458,"g":"g"},{"PC1":0.0578,"PC2":0.0435,"g":"g"},{"PC1":0.0586,"PC2":0.0419,"g":"g"},{"PC1":0.0562,"PC2":0.0412,"g":"g"},{"PC1":0.0552,"PC2":0.0415,"g":"g"},{"PC1":0.0545,"PC2":0.0423,"g":"g"},{"PC1":0.0532,"PC2":0.0412,"g":"g"},{"PC1":0.0519,"PC2":0.0431,"g":"g"},{"PC1":0.0512,"PC2":0.0427,"g":"g"},{"PC1":0.0485,"PC2":0.0423,"g":"g"},{"PC1":0.0490,"PC2":0.0404,"g":"g"},{"PC1":0.0481,"PC2":0.0412,"g":"g"},{"PC1":0.0470,"PC2":0.0412,"g":"g"},{"PC1":0.0465,"PC2":0.0392,"g":"g"},{"PC1":0.0436,"PC2":0.0377,"g":"g"},{"PC1":0.0436,"PC2":0.0365,"g":"g"},{"PC1":0.0430,"PC2":0.0342,"g":"g"},{"PC1":0.0438,"PC2":0.0323,"g":"g"},{"PC1":0.0407,"PC2":0.0362,"g":"g"},{"PC1":0.0397,"PC2":0.0350,"g":"g"},{"PC1":0.0409,"PC2":0.0346,"g":"g"},{"PC1":0.0412,"PC2":0.0327,"g":"g"},{"PC1":0.0416,"PC2":0.0315,"g":"g"},{"PC1":0.0405,"PC2":0.0315,"g":"g"},{"PC1":0.0424,"PC2":0.0312,"g":"g"},{"PC1":0.0397,"PC2":0.0292,"g":"g"},{"PC1":0.0420,"PC2":0.0288,"g":"g"},{"PC1":0.0422,"PC2":0.0269,"g":"g"},{"PC1":0.0422,"PC2":0.0258,"g":"g"},{"PC1":0.0403,"PC2":0.0254,"g":"g"},{"PC1":0.0396,"PC2":0.0238,"g":"g"},{"PC1":0.0411,"PC2":0.0238,"g":"g"},{"PC1":0.0416,"PC2":0.0219,"g":"g"},{"PC1":0.0442,"PC2":0.0292,"g":"g"},{"PC1":0.0446,"PC2":0.0285,"g":"g"},{"PC1":0.0458,"PC2":0.0292,"g":"g"},{"PC1":0.0450,"PC2":0.0315,"g":"g"},{"PC1":0.0451,"PC2":0.0354,"g":"g"},{"PC1":0.0458,"PC2":0.0365,"g":"g"},{"PC1":0.0463,"PC2":0.0358,"g":"g"},{"PC1":0.0470,"PC2":0.0354,"g":"g"},{"PC1":0.0471,"PC2":0.0319,"g":"g"},{"PC1":0.0465,"PC2":0.0300,"g":"g"},{"PC1":0.0454,"PC2":0.0327,"g":"g"},{"PC1":0.0450,"PC2":0.0215,"g":"g"},{"PC1":0.0439,"PC2":0.0196,"g":"g"},{"PC1":0.0470,"PC2":0.0262,"g":"g"},{"PC1":0.0478,"PC2":0.0281,"g":"g"},{"PC1":0.0488,"PC2":0.0288,"g":"g"},{"PC1":0.0493,"PC2":0.0292,"g":"g"},{"PC1":0.0505,"PC2":0.0292,"g":"g"},{"PC1":0.0489,"PC2":0.0319,"g":"g"},{"PC1":0.0494,"PC2":0.0319,"g":"g"},{"PC1":0.0485,"PC2":0.0365,"g":"g"},{"PC1":0.0493,"PC2":0.0362,"g":"g"},{"PC1":0.0505,"PC2":0.0365,"g":"g"},{"PC1":0.0511,"PC2":0.0377,"g":"g"},{"PC1":0.0513,"PC2":0.0385,"g":"g"},{"PC1":0.0519,"PC2":0.0404,"g":"g"},{"PC1":0.0525,"PC2":0.0396,"g":"g"},{"PC1":0.0545,"PC2":0.0396,"g":"g"},{"PC1":0.0544,"PC2":0.0373,"g":"g"},{"PC1":0.0548,"PC2":0.0354,"g":"g"},{"PC1":0.0550,"PC2":0.0335,"g":"g"},{"PC1":0.0532,"PC2":0.0373,"g":"g"},{"PC1":0.0531,"PC2":0.0338,"g":"g"},{"PC1":0.0529,"PC2":0.0327,"g":"g"},{"PC1":0.0528,"PC2":0.0292,"g":"g"},{"PC1":0.0533,"PC2":0.0269,"g":"g"},{"PC1":0.0517,"PC2":0.0319,"g":"g"},{"PC1":0.0566,"PC2":0.0315,"g":"g"},{"PC1":0.0583,"PC2":0.0369,"g":"g"},{"PC1":0.0589,"PC2":0.0346,"g":"g"},{"PC1":0.0578,"PC2":0.0392,"g":"g"},{"PC1":0.0393,"PC2":0.0319,"g":"g"},{"PC1":0.0393,"PC2":0.0269,"g":"g"},{"PC1":0.0481,"PC2":0.0442,"g":"g"},{"PC1":0.0488,"PC2":0.0431,"g":"g"},{"PC1":0.0494,"PC2":0.0423,"g":"g"},{"PC1":0.0477,"PC2":0.0385,"g":"g"},{"PC1":0.0501,"PC2":0.0442,"g":"g"},{"PC1":0.0482,"PC2":0.0392,"g":"g"},{"PC1":0.0508,"PC2":0.0385,"g":"g"},{"PC1":0.0515,"PC2":0.0365,"g":"g"},{"PC1":0.0461,"PC2":0.0327,"g":"g"},{"PC1":0.0467,"PC2":0.0327,"g":"g"},{"PC1":0.0458,"PC2":0.0338,"g":"g"},{"PC1":0.0474,"PC2":0.0346,"g":"g"},{"PC1":0.0407,"PC2":0.0338,"g":"g"},{"PC1":0.0414,"PC2":0.0346,"g":"g"},{"PC1":0.0564,"PC2":0.0435,"g":"g"},{"PC1":0.0568,"PC2":0.0423,"g":"g"},
{"PC1":0.0191,"PC2":0.0400,"g":"r"},{"PC1":0.0189,"PC2":0.0373,"g":"r"},{"PC1":0.0175,"PC2":0.0258,"g":"r"},{"PC1":0.0174,"PC2":0.0100,"g":"r"}
]},
"mark":{"type":"point","shape":"circle","filled":false,"size":66,"strokeWidth":1.1,"opacity":1},
"encoding":{
"x":{"field":"PC1","type":"quantitative","title":"PC1","scale":{"domain":[-0.02532,0.06397],"nice":false,"zero":false},"axis":{"values":[-0.02,0,0.02,0.04,0.06],"labelExpr":"(datum.value<0?'-':'')+format(abs(datum.value),'.2f')","grid":false,"domain":false,"tickColor":"black","tickSize":7,"labelColor":"black","labelFont":"Liberation Sans","labelFontSize":16,"labelPadding":18,"labelFlush":false,"titleColor":"black","titleFont":"Liberation Sans","titleFontSize":16,"titleFontWeight":"normal","titlePadding":28}},
"y":{"field":"PC2","type":"quantitative","title":"PC2","scale":{"domain":[-0.0546,0.0577],"nice":false,"zero":false},"axis":{"values":[-0.04,-0.02,0,0.02,0.04],"labelExpr":"datum.value==-0.02?'':(datum.value<0?'-':'')+format(abs(datum.value),'.2f')","grid":false,"domain":false,"tickColor":"black","tickSize":7,"labelColor":"black","labelFont":"Liberation Sans","labelFontSize":16,"labelAngle":-90,"labelAlign":"center","labelBaseline":"bottom","labelPadding":16,"titleColor":"black","titleFont":"Liberation Sans","titleFontSize":16,"titleFontWeight":"normal","titlePadding":30}},
"color":{"field":"g","type":"nominal","legend":null,"scale":{"domain":["k","r","g"],"range":["#000000","#ff0000","#00cd00"]}},
"order":{"value":0}
}}
